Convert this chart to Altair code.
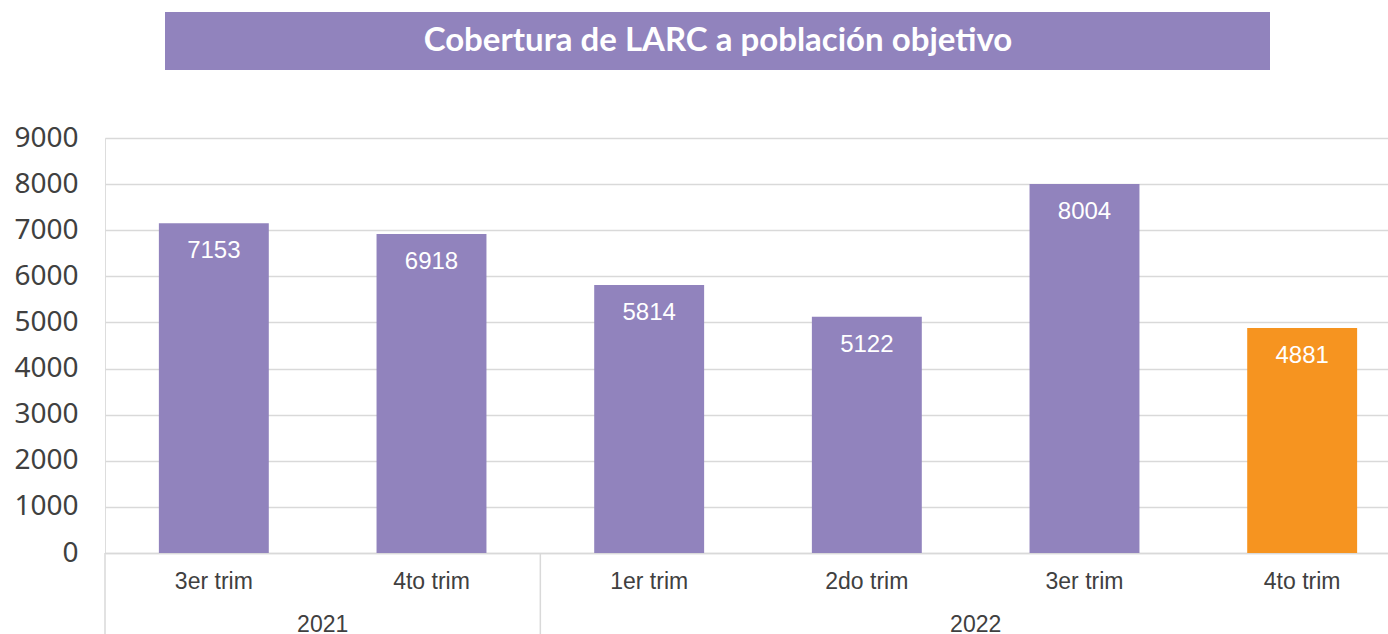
import altair as alt
import pandas as pd

# Quarterly LARC coverage counts
years = ["2021", "2021", "2022", "2022", "2022", "2022"]
trims = ["3er trim", "4to trim", "1er trim", "2do trim", "3er trim", "4to trim"]
values = [7153, 6918, 5814, 5122, 8004, 4881]
highlight = [False, False, False, False, False, True]

keys = [f"{y} {t}" for y, t in zip(years, trims)]
df = pd.DataFrame({"key": keys, "year": years, "trim": trims,
                   "value": values, "hl": highlight})

# Year group labels: centred on the boundary between groups' middle bands
year_df = pd.DataFrame({"key": [keys[1], keys[4]], "label": ["2021", "2022"]})
# Vertical separators at the start of each year group
sep_df = pd.DataFrame({"key": [keys[0], keys[2]]})

PURPLE = "#9183bd"
ORANGE = "#f69420"
GRID = "#d9d9d9"
TEXT = "#404040"

W, H = 1283, 415
RANGE_END = 1306
BAND_RANGE = [0, RANGE_END]
PAD_INNER = 0.495
STEP = RANGE_END / len(keys)
# pixel shift from a band's start back to the middle of the gap before it
GAP_SHIFT = -PAD_INNER / 2 * STEP

xscale = alt.Scale(domain=keys, range=BAND_RANGE, paddingInner=PAD_INNER,
                   paddingOuter=PAD_INNER / 2)
yscale = alt.Scale(domain=[0, 9000])

base = alt.Chart(df)

bars = base.mark_bar().encode(
    x=alt.X("key:N", scale=xscale, sort=keys, title=None,
            axis=alt.Axis(labelExpr="slice(datum.label, 5)", labelAngle=0,
                          labelFont="Liberation Sans", labelFontSize=23,
                          labelColor=TEXT, labelPadding=28, labelBaseline="middle",
                          ticks=False, domainColor=GRID, domainWidth=1.5)),
    y=alt.Y("value:Q", scale=yscale, title=None,
            axis=alt.Axis(values=list(range(0, 9001, 1000)), format="d",
                          labelFont="Noto Sans", labelFontSize=28,
                          labelColor=TEXT, labelPadding=27,
                          ticks=False, domain=False, gridColor=GRID, gridWidth=1.5)),
    color=alt.condition("datum.hl", alt.value(ORANGE), alt.value(PURPLE)),
)

labels = base.mark_text(color="white", font="Liberation Sans", fontSize=24,
                        baseline="middle", dy=28).encode(
    x=alt.X("key:N", scale=xscale, sort=keys),
    y=alt.Y("value:Q", scale=yscale),
    text=alt.Text("value:Q", format="d"),
)

year_labels = alt.Chart(year_df).mark_text(font="Liberation Sans", fontSize=23,
                                           color=TEXT, baseline="middle",
                                           dx=GAP_SHIFT).encode(
    x=alt.X("key:N", scale=xscale, sort=keys, bandPosition=0),
    y=alt.value(H + 72),
    text="label:N",
)

separators = alt.Chart(sep_df).mark_rule(color=GRID, strokeWidth=1.5,
                                         xOffset=GAP_SHIFT).encode(
    x=alt.X("key:N", scale=xscale, sort=keys, bandPosition=0),
    y=alt.value(H),
    y2=alt.value(H + 90),
)

banner = alt.Chart(pd.DataFrame({"t": ["Cobertura de LARC a población objetivo"]}))
banner_rect = banner.mark_rect(color=PURPLE).encode(
    x=alt.value(60), x2=alt.value(1165), y=alt.value(-126), y2=alt.value(-68),
)
banner_text = banner.mark_text(color="white", font="Lato", fontWeight="bold",
                               fontSize=33, baseline="middle", align="center").encode(
    x=alt.value(613), y=alt.value(-97), text="t:N",
)

chart = alt.layer(bars, labels, year_labels, separators, banner_rect, banner_text).properties(
    width=W, height=H,
    autosize=alt.AutoSizeParams(type="none"),
    padding={"left": 105, "top": 138, "right": 0, "bottom": 81},
).configure_view(stroke=None).configure(background="white")

chart.save("out.html", embed_options={"renderer": "svg", "actions": False})
